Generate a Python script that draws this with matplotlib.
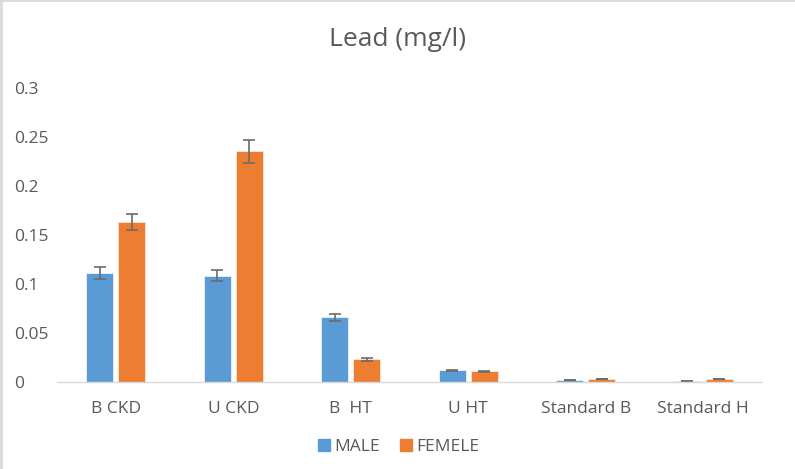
import numpy as np
import matplotlib.pyplot as plt
from matplotlib.lines import Line2D

plt.rcParams['font.family'] = ['Open Sans', 'DejaVu Sans']

# Data
categories = ["B CKD", "U CKD", "B  HT", "U HT", "Standard B", "Standard H"]
male = [0.1115, 0.1085, 0.066, 0.0118, 0.002, 0.001]
female = [0.1635, 0.2355, 0.023, 0.011, 0.003, 0.003]
male_err = [0.006, 0.0055, 0.0035, 0.0006, 0.0003, 0.0002]
female_err = [0.008, 0.0118, 0.0015, 0.0006, 0.0003, 0.0003]
yticks = [0, 0.05, 0.1, 0.15, 0.2, 0.25, 0.3]
ytick_labels = ["0", "0.05", "0.1", "0.15", "0.2", "0.25", "0.3"]

blue = "#5b9bd5"
orange = "#ed7d31"
grey_txt = "#595959"

fig = plt.figure(figsize=(7.95, 4.69), dpi=100)
ax = fig.add_axes([57/795, 1-382/469, (762-57)/795, (382-88)/469])

x = np.arange(len(categories))
w = 0.23
off = 0.138
err_style = dict(ecolor="#6b6b6b", elinewidth=1.2, capsize=4.5, capthick=1.2)
ax.bar(x - off, male, w, color=blue, edgecolor="#eaf2fa", linewidth=0.6,
       yerr=male_err, error_kw=err_style, label="MALE")
ax.bar(x + off, female, w, color=orange, edgecolor="#fbe5d6", linewidth=0.6,
       yerr=female_err, error_kw=err_style, label="FEMELE")

ax.set_xlim(-0.5, len(categories) - 0.5)
ax.set_ylim(0, 0.3)
ax.set_yticks(yticks)
ax.set_yticklabels(ytick_labels)
ax.set_xticks(x)
ax.set_xticklabels(categories)
ax.tick_params(axis='both', length=0, labelsize=12.5, colors=grey_txt)
ax.tick_params(axis='x', pad=14)
ax.tick_params(axis='y', pad=31)
for lab in ax.get_yticklabels():
    lab.set_horizontalalignment('left')
for s in ["top", "right", "left"]:
    ax.spines[s].set_visible(False)
ax.spines["bottom"].set_color("#d9d9d9")
ax.spines["bottom"].set_linewidth(1)

fig.text(0.5, 1-40/469, "Lead (mg/l)", ha="center", va="center",
         fontsize=19, color=grey_txt)

handles = [Line2D([], [], marker='s', linestyle='none', markersize=8,
                  markerfacecolor=c, markeredgecolor=c) for c in (blue, orange)]
fig.legend(handles, ["MALE", "FEMELE"], loc="center", ncol=2,
           bbox_to_anchor=(0.5, 1-447/469), frameon=False, fontsize=12.5,
           labelcolor=grey_txt, handletextpad=0.1, columnspacing=1.0,
           handlelength=1.0)

# light border on left and top edges
fig.add_artist(Line2D([0.001, 0.001], [0, 1], color="#d9d9d9", linewidth=2,
                      transform=fig.transFigure))
fig.add_artist(Line2D([0, 1], [0.999, 0.999], color="#d9d9d9", linewidth=2,
                      transform=fig.transFigure))

fig.savefig("out.png", dpi=100)
